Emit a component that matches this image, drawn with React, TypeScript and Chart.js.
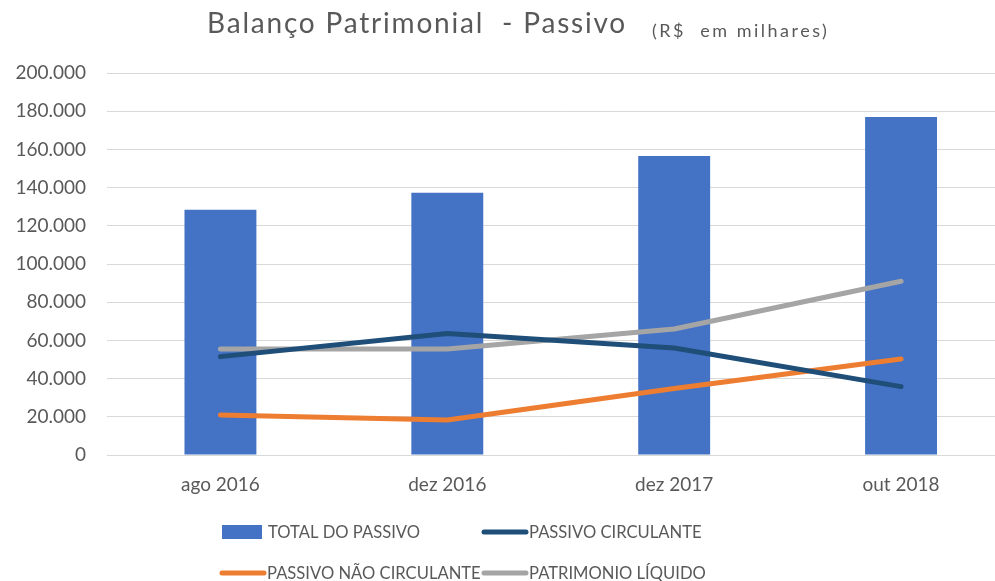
import React, { useEffect, useRef } from "react";
import { Chart, registerables } from "chart.js";

Chart.register(...registerables);

const categories = ["ago 2016", "dez 2016", "dez 2017", "out 2018"];
const totalPassivo = [128400, 137300, 156600, 177000];
const passivoCirculante = [51500, 63600, 56000, 35800];
const passivoNaoCirculante = [21000, 18300, 34800, 50300];
const patrimonioLiquido = [55500, 55500, 66000, 91000];
const yTicks = [0, 20000, 40000, 60000, 80000, 100000, 120000, 140000, 160000, 180000, 200000];

const FONT = "Lato, 'Open Sans', sans-serif";
const TEXT = "#595959";

function fmt(v: number): string {
  return String(Math.round(v)).replace(/\B(?=(\d{3})+(?!\d))/g, ".");
}

const titlePlugin = {
  id: "customTitle",
  afterDraw(chart: any) {
    const ctx = chart.ctx;
    ctx.save();
    ctx.fillStyle = TEXT;
    ctx.textBaseline = "alphabetic";
    ctx.textAlign = "left";
    ctx.font = `28px ${FONT}`;
    (ctx as any).letterSpacing = "1.8px";
    ctx.fillText("Balanço Patrimonial  - Passivo", 207, 33);
    ctx.font = `18px ${FONT}`;
    (ctx as any).letterSpacing = "2.5px";
    ctx.fillText("(R$  em milhares)", 652, 37);
    (ctx as any).letterSpacing = "0px";
    ctx.restore();
  },
};

const legendPlugin = {
  id: "customLegend",
  afterDraw(chart: any) {
    const ctx = chart.ctx;
    const ds = chart.data.datasets;
    const slots = [
      { x: 220, y: 532 },
      { x: 482, y: 532 },
      { x: 220, y: 573 },
      { x: 482, y: 573 },
    ];
    ctx.save();
    ctx.font = `16.6px ${FONT}`;
    ctx.textBaseline = "middle";
    ctx.textAlign = "left";
    ds.forEach((d: any, i: number) => {
      const s = slots[i];
      if (!s) return;
      if (d.type === "bar") {
        ctx.fillStyle = d.backgroundColor;
        ctx.fillRect(s.x + 2, s.y - 7, 40, 14);
        ctx.fillStyle = TEXT;
        ctx.fillText(d.label, s.x + 48, s.y + 1);
      } else {
        ctx.strokeStyle = d.borderColor;
        ctx.lineWidth = 5;
        ctx.lineCap = "round";
        ctx.beginPath();
        ctx.moveTo(s.x + 2, s.y);
        ctx.lineTo(s.x + 44, s.y);
        ctx.stroke();
        ctx.fillStyle = TEXT;
        ctx.fillText(d.label, s.x + 47, s.y + 1);
      }
    });
    ctx.restore();
  },
};

export default function App() {
  const ref = useRef<HTMLCanvasElement | null>(null);
  useEffect(() => {
    if (!ref.current) return;
    const chart = new Chart(ref.current, {
      type: "bar",
      data: {
        labels: categories,
        datasets: [
          {
            type: "bar",
            label: "TOTAL DO PASSIVO",
            data: totalPassivo,
            backgroundColor: "#4472C4",
            categoryPercentage: 1,
            barPercentage: 0.317,
            order: 2,
          } as any,
          {
            type: "line",
            label: "PASSIVO CIRCULANTE",
            data: passivoCirculante,
            borderColor: "#1F4E79",
            backgroundColor: "#1F4E79",
            borderWidth: 5,
            pointRadius: 0,
            tension: 0,
            borderCapStyle: "round",
            borderJoinStyle: "round",
            order: 1,
          },
          {
            type: "line",
            label: "PASSIVO NÃO CIRCULANTE",
            data: passivoNaoCirculante,
            borderColor: "#ED7D31",
            backgroundColor: "#ED7D31",
            borderWidth: 5,
            pointRadius: 0,
            tension: 0,
            borderCapStyle: "round",
            borderJoinStyle: "round",
            order: 1,
          },
          {
            type: "line",
            label: "PATRIMONIO LÍQUIDO",
            data: patrimonioLiquido,
            borderColor: "#A5A5A5",
            backgroundColor: "#A5A5A5",
            borderWidth: 5,
            pointRadius: 0,
            tension: 0,
            borderCapStyle: "round",
            borderJoinStyle: "round",
            order: 1,
          },
        ],
      },
      options: {
        responsive: false,
        animation: false,
        layout: { padding: { top: 73, right: 5.5, bottom: 105, left: 0 } },
        plugins: {
          legend: { display: false },
          title: { display: false },
          tooltip: { enabled: false },
        },
        scales: {
          x: {
            grid: { display: false, drawTicks: false },
            border: { display: false },
            ticks: {
              color: TEXT,
              font: { family: FONT, size: 19 },
              padding: 18,
            },
            afterFit(axis: any) {
              axis.height = 40;
            },
          },
          y: {
            min: 0,
            max: 200000,
            grid: { color: "#D9D9D9", lineWidth: 1, drawTicks: false },
            border: { display: false },
            afterBuildTicks(axis: any) {
              axis.ticks = yTicks.map((v) => ({ value: v }));
            },
            ticks: {
              color: TEXT,
              font: { family: FONT, size: 19 },
              padding: 21,
              callback: (v: any) => fmt(Number(v)),
            },
            afterFit(axis: any) {
              axis.width = 107;
            },
          },
        },
      },
      plugins: [titlePlugin, legendPlugin],
    });
    return () => chart.destroy();
  }, []);
  return (
    <div
      style={{
        position: "fixed",
        left: 0,
        top: 0,
        width: 995,
        height: 581,
        overflow: "hidden",
        background: "#fff",
      }}
    >
      <canvas ref={ref} width={1020} height={600} style={{ width: 1020, height: 600, display: "block" }} />
    </div>
  );
}
